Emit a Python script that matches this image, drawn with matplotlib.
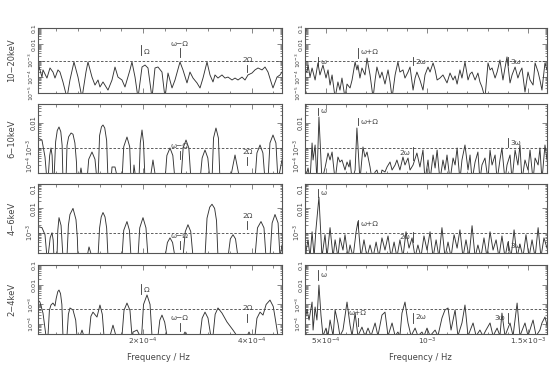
import numpy as np
import matplotlib
matplotlib.use('Agg')
import matplotlib.pyplot as plt
from matplotlib.ticker import FixedLocator, FixedFormatter, LogLocator, NullFormatter, MultipleLocator

plt.rcParams['font.family'] = ['DejaVu Sans']
plt.rcParams['mathtext.fontset'] = 'dejavusans'

FREQ_UNIT = 1e-4  # frequencies below are in units of 1e-4 Hz; powers are log10

bands = ['10−20keV', '6−10keV', '4−6keV', '2−4keV']

# ---- left column (low frequency) : (freq, log10 power) ----
row1_left = [(0.065,-3.15),(0.138,-4.02),(0.157,-3.58),(0.230,-4.08),(0.286,-3.46),(0.341,-3.71),(0.378,-4.08),(0.433,-3.58),(0.470,-3.71),(0.525,-4.32),(0.599,-5.3),(0.654,-4.20),(0.728,-3.09),(0.802,-4.02),(0.876,-5.3),(0.949,-3.71),(0.986,-3.09),(1.060,-4.02),(1.115,-4.51),(1.171,-4.20),(1.207,-4.63),(1.263,-4.32),(1.355,-4.82),(1.429,-4.20),(1.484,-3.40),(1.539,-4.02),(1.613,-4.20),(1.668,-4.63),(1.760,-3.58),(1.797,-3.09),(1.853,-4.02),(1.908,-5.3),(1.982,-3.40),(2.037,-3.28),(2.092,-3.46),(2.166,-5.3),(2.221,-3.46),(2.276,-3.40),(2.350,-3.71),(2.406,-5.3),(2.461,-3.77),(2.535,-4.69),(2.590,-4.20),(2.682,-3.09),(2.737,-3.58),(2.811,-4.38),(2.866,-3.71),(2.922,-4.08),(2.995,-4.38),(3.051,-4.69),(3.106,-4.08),(3.180,-3.09),(3.235,-3.89),(3.290,-4.32),(3.327,-3.89),(3.382,-4.08),(3.456,-3.89),(3.511,-4.08),(3.567,-4.02),(3.641,-4.20),(3.696,-4.08),(3.751,-4.20),(3.825,-4.02),(3.880,-4.20),(3.935,-3.89),(4.009,-3.77),(4.064,-3.58),(4.120,-3.46),(4.194,-3.58),(4.249,-3.40),(4.304,-3.71),(4.378,-4.51),(4.396,-4.69),(4.470,-4.02),(4.525,-3.89),(4.562,-3.71)]

row2_left = [(0.065,-2.60),(0.138,-2.68),(0.194,-3.36),(0.230,-4.3),
(0.249,-4.3),(0.280,-3.3),(0.304,-3.0),(0.325,-3.3),(0.341,-4.3),
(0.359,-4.3),(0.390,-2.75),(0.420,-2.3),(0.452,-2.16),(0.485,-2.35),(0.510,-2.9),(0.525,-4.3),
(0.581,-4.3),(0.600,-2.9),(0.630,-2.55),(0.675,-2.4),(0.710,-2.45),(0.745,-2.8),(0.775,-3.6),(0.783,-4.3),
(0.820,-4.3),(0.857,-3.8),(0.894,-4.3),
(0.968,-4.3),(1.000,-3.45),(1.060,-3.16),(1.115,-3.45),(1.152,-4.3),
(1.171,-4.3),(1.200,-2.5),(1.235,-2.15),(1.263,-2.08),(1.295,-2.2),(1.330,-2.7),(1.355,-4.3),
(1.410,-4.3),(1.429,-3.76),(1.484,-3.76),(1.539,-4.3),
(1.613,-4.3),(1.645,-2.95),(1.705,-2.56),(1.755,-2.95),(1.779,-4.3),
(1.816,-4.3),(1.834,-3.68),(1.871,-4.3),
(1.926,-4.3),(1.950,-2.8),(1.982,-2.28),(2.010,-2.8),(2.037,-4.3),
(2.129,-4.3),(2.184,-3.48),(2.240,-4.3),
(2.406,-4.3),(2.440,-3.3),(2.498,-3.0),(2.550,-3.3),(2.590,-4.3),
(2.700,-4.3),(2.740,-3.0),(2.793,-2.68),(2.845,-3.0),(2.885,-4.3),
(3.051,-4.3),(3.090,-3.4),(3.143,-3.08),(3.195,-3.4),(3.235,-4.3),
(3.272,-4.3),(3.300,-2.6),(3.345,-2.2),(3.390,-2.6),(3.419,-4.3),
(3.604,-4.3),(3.696,-3.28),(3.788,-4.3),
(4.064,-4.3),(4.100,-3.2),(4.157,-2.88),(4.210,-3.2),(4.249,-4.3),
(4.304,-4.3),(4.340,-2.8),(4.396,-2.48),(4.450,-2.8),(4.488,-4.3),(4.562,-3.48)]

row3_left = [(0.065,-2.75),(0.138,-2.79),(0.194,-3.08),(0.230,-4.0),
(0.249,-4.0),(0.290,-3.2),(0.323,-3.0),(0.345,-3.3),(0.359,-4.0),
(0.415,-4.0),(0.430,-2.9),(0.452,-2.38),(0.490,-2.7),(0.525,-4.0),
(0.599,-4.0),(0.625,-2.7),(0.654,-2.25),(0.710,-2.0),(0.765,-2.46),(0.790,-3.2),(0.802,-4.0),
(0.968,-4.0),(1.005,-3.58),(1.060,-4.0),
(1.171,-4.0),(1.200,-2.8),(1.230,-2.35),(1.263,-2.17),(1.300,-2.35),(1.330,-2.8),(1.355,-4.0),
(1.613,-4.0),(1.645,-2.9),(1.705,-2.54),(1.750,-2.9),(1.779,-4.0),
(1.908,-4.0),(1.940,-2.8),(2.000,-2.38),(2.055,-2.8),(2.092,-4.0),
(2.406,-4.0),(2.450,-3.4),(2.498,-3.21),(2.545,-3.4),(2.590,-4.0),
(2.737,-4.0),(2.780,-2.95),(2.829,-2.67),(2.880,-2.95),(2.922,-4.0),
(3.143,-4.0),(3.180,-2.4),(3.230,-1.95),(3.272,-1.83),(3.320,-2.0),(3.355,-2.5),(3.382,-4.0),
(3.567,-4.0),(3.610,-3.25),(3.659,-3.08),(3.705,-3.25),(3.751,-4.0),
(4.064,-4.0),(4.110,-2.8),(4.175,-2.54),(4.230,-2.8),(4.267,-4.0),
(4.341,-4.0),(4.380,-2.6),(4.433,-2.25),(4.490,-2.6),(4.525,-4.0),(4.562,-3.5)]

row4_left = [(0.065,-2.78),(0.101,-2.88),(0.157,-3.44),(0.212,-4.6),
(0.249,-4.6),(0.275,-3.3),(0.304,-3.03),(0.341,-2.93),(0.378,-3.08),(0.400,-2.7),(0.430,-2.35),(0.452,-2.27),(0.480,-2.45),(0.505,-3.0),(0.525,-4.6),
(0.599,-4.6),(0.625,-3.5),(0.654,-3.18),(0.710,-3.28),(0.760,-3.8),(0.783,-4.6),
(0.840,-4.6),(0.876,-4.30),(0.910,-4.6),
(1.005,-4.6),(1.040,-3.6),(1.078,-3.39),(1.152,-3.64),(1.207,-3.03),(1.250,-3.5),(1.281,-4.6),
(1.392,-4.6),(1.447,-4.05),(1.502,-4.6),
(1.613,-4.6),(1.650,-3.3),(1.705,-2.93),(1.760,-3.3),(1.797,-4.6),
(1.810,-4.6),(1.816,-4.40),(1.890,-4.30),(1.945,-4.6),
(1.975,-4.6),(2.010,-3.0),(2.074,-2.52),(2.130,-3.0),(2.166,-4.6),
(2.276,-4.6),(2.310,-3.8),(2.350,-3.54),(2.400,-3.9),(2.442,-4.6),
(2.737,-4.6),(2.774,-4.40),(2.811,-4.6),
(3.051,-4.6),(3.090,-3.7),(3.143,-3.39),(3.198,-3.69),(3.250,-4.6),
(3.290,-4.6),(3.330,-3.5),(3.382,-3.18),(3.456,-3.44),(3.548,-3.89),(3.659,-4.30),(3.733,-4.6),
(3.917,-4.6),(3.954,-4.40),(3.990,-4.6),
(4.064,-4.6),(4.100,-3.7),(4.157,-3.39),(4.212,-3.54),(4.270,-3.0),(4.341,-2.78),(4.400,-3.1),(4.433,-3.64),(4.488,-4.6),(4.562,-4.6)]

# ---- right column (high frequency) ----
row1_right = [(3.96,-3.58),(4.06,-3.71),(4.11,-3.28),(4.21,-4.02),(4.31,-3.46),(4.46,-4.20),(4.60,-3.15),(4.70,-3.89),(4.85,-3.28),(5.00,-4.08),(5.10,-3.58),(5.20,-4.51),(5.30,-3.89),(5.45,-5.3),(5.59,-4.32),(5.69,-4.82),(5.79,-4.08),(5.94,-5.3),(6.04,-4.45),(6.19,-4.69),(6.29,-4.20),(6.44,-3.09),(6.53,-3.58),(6.58,-3.28),(6.68,-4.08),(6.78,-3.46),(6.93,-3.89),(7.03,-2.85),(7.18,-3.89),(7.33,-5.3),(7.43,-4.20),(7.52,-3.40),(7.67,-4.08),(7.77,-3.71),(7.92,-4.45),(8.07,-3.58),(8.17,-4.32),(8.27,-5.3),(8.42,-3.89),(8.56,-3.09),(8.66,-3.71),(8.81,-3.58),(8.91,-4.08),(9.06,-3.71),(9.16,-3.40),(9.31,-4.82),(9.41,-4.08),(9.50,-3.71),(9.65,-4.20),(9.80,-4.82),(9.90,-3.89),(10.05,-3.40),(10.15,-3.71),(10.30,-3.15),(10.40,-3.58),(10.50,-4.20),(10.64,-4.08),(10.79,-3.89),(10.99,-4.38),(11.14,-3.77),(11.29,-4.20),(11.39,-3.95),(11.49,-4.45),(11.63,-3.58),(11.73,-4.08),(11.88,-3.09),(12.03,-4.20),(12.13,-3.83),(12.23,-3.71),(12.38,-4.20),(12.52,-3.77),(12.62,-4.32),(12.72,-4.63),(12.87,-5.3),(13.02,-3.15),(13.12,-3.58),(13.22,-3.46),(13.37,-4.08),(13.47,-3.71),(13.61,-2.97),(13.76,-4.20),(13.86,-3.46),(13.96,-2.78),(14.11,-4.38),(14.21,-3.89),(14.36,-3.40),(14.50,-4.08),(14.60,-3.71),(14.70,-3.46),(14.85,-4.94),(15.00,-3.71),(15.10,-4.20),(15.25,-4.51),(15.35,-3.15),(15.50,-3.71),(15.59,-4.20),(15.69,-4.82),(15.84,-3.15),(15.94,-3.58)]

row2_right = [(3.96,-4.3),(4.11,-3.80),(4.21,-4.3),(4.31,-2.80),(4.36,-3.48),(4.46,-2.88),(4.55,-4.3),(4.65,-1.76),(4.80,-4.3),(4.95,-3.80),(5.10,-3.20),(5.20,-3.48),(5.30,-3.16),(5.45,-4.3),(5.59,-3.36),(5.69,-3.56),(5.79,-3.48),(5.94,-3.88),(6.04,-3.56),(6.14,-3.76),(6.19,-3.48),(6.29,-4.3),(6.44,-3.88),(6.53,-2.20),(6.68,-4.3),(6.83,-2.96),(6.93,-3.36),(7.03,-3.16),(7.18,-3.76),(7.28,-4.3),(7.43,-3.96),(7.52,-3.88),(7.67,-4.3),(7.77,-3.88),(7.92,-3.96),(8.02,-3.76),(8.17,-3.56),(8.27,-3.88),(8.42,-3.68),(8.51,-3.48),(8.66,-3.88),(8.81,-3.36),(8.91,-3.68),(9.06,-3.40),(9.16,-3.88),(9.31,-3.68),(9.50,-3.20),(9.65,-3.76),(9.80,-3.08),(9.90,-4.3),(10.05,-3.48),(10.15,-4.3),(10.30,-3.28),(10.40,-3.80),(10.50,-3.08),(10.64,-4.3),(10.79,-3.48),(10.89,-3.88),(10.99,-3.28),(11.14,-4.3),(11.29,-3.40),(11.39,-3.68),(11.49,-3.00),(11.63,-4.3),(11.73,-3.48),(11.88,-2.88),(12.03,-3.88),(12.13,-3.28),(12.23,-4.3),(12.38,-3.56),(12.52,-3.16),(12.62,-4.3),(12.72,-3.68),(12.87,-3.40),(13.02,-4.3),(13.12,-3.08),(13.22,-3.68),(13.37,-3.28),(13.47,-4.3),(13.61,-3.48),(13.71,-3.00),(13.86,-4.3),(13.96,-3.68),(14.11,-3.28),(14.21,-4.3),(14.36,-3.08),(14.50,-3.68),(14.60,-2.88),(14.70,-4.3),(14.85,-3.48),(15.00,-3.88),(15.10,-3.08),(15.25,-4.3),(15.35,-3.40),(15.50,-3.68),(15.59,-3.00),(15.69,-4.3),(15.84,-2.88),(15.94,-3.48)]

row3_right = [(3.96,-4.0),(4.11,-3.29),(4.21,-4.0),(4.31,-2.96),(4.41,-4.0),(4.50,-2.88),(4.65,-1.54),(4.80,-4.0),(4.95,-3.08),(5.05,-4.0),(5.20,-2.79),(5.35,-4.0),(5.45,-3.29),(5.59,-4.0),(5.69,-3.21),(5.84,-3.71),(5.94,-3.08),(6.09,-4.0),(6.19,-3.5),(6.34,-4.0),(6.49,-2.96),(6.58,-2.54),(6.73,-4.0),(6.88,-3.29),(7.03,-4.0),(7.18,-3.5),(7.33,-4.0),(7.48,-3.38),(7.62,-4.0),(7.77,-3.21),(7.92,-3.71),(8.07,-3.13),(8.22,-4.0),(8.37,-3.38),(8.51,-4.0),(8.66,-3.29),(8.81,-4.0),(8.96,-2.96),(9.11,-3.63),(9.26,-3.21),(9.41,-4.0),(9.55,-3.5),(9.70,-4.0),(9.85,-3.13),(10.00,-3.71),(10.15,-2.96),(10.30,-4.0),(10.45,-3.29),(10.59,-4.0),(10.74,-2.79),(10.89,-4.0),(11.04,-3.38),(11.19,-4.0),(11.34,-3.08),(11.49,-3.63),(11.63,-2.88),(11.78,-4.0),(11.93,-3.29),(12.08,-4.0),(12.23,-2.71),(12.38,-4.0),(12.52,-3.5),(12.67,-4.0),(12.82,-3.21),(12.97,-4.0),(13.12,-2.96),(13.27,-3.71),(13.42,-3.29),(13.56,-4.0),(13.71,-3.13),(13.86,-4.0),(14.01,-3.38),(14.16,-4.0),(14.31,-2.88),(14.46,-4.0),(14.60,-3.46),(14.75,-4.0),(14.90,-3.08),(15.05,-4.0),(15.20,-3.29),(15.35,-4.0),(15.50,-2.79),(15.64,-4.0),(15.79,-3.21),(15.94,-3.63)]

row4_right = [(3.96,-3.79),(4.06,-3.28),(4.16,-3.79),(4.31,-2.88),(4.36,-4.30),(4.46,-3.13),(4.55,-3.79),(4.65,-2.02),(4.75,-3.54),(4.85,-4.6),(5.00,-4.20),(5.10,-4.6),(5.20,-3.79),(5.35,-4.6),(5.45,-3.28),(5.59,-3.94),(5.69,-4.6),(5.84,-4.30),(6.04,-2.88),(6.19,-4.05),(6.29,-4.6),(6.44,-3.44),(6.58,-4.6),(6.78,-4.15),(6.93,-4.6),(7.08,-4.20),(7.23,-4.6),(7.43,-3.94),(7.57,-4.6),(7.77,-3.54),(7.92,-3.39),(8.07,-4.6),(8.27,-3.94),(8.42,-4.6),(8.56,-4.40),(8.66,-4.6),(8.76,-3.44),(8.91,-2.88),(9.06,-3.94),(9.21,-4.6),(9.41,-4.20),(9.55,-4.6),(9.75,-4.40),(9.85,-4.6),(10.00,-4.20),(10.15,-4.6),(10.40,-4.30),(10.54,-4.6),(10.74,-3.69),(10.89,-3.28),(11.04,-3.18),(11.19,-4.30),(11.39,-3.28),(11.53,-4.6),(11.73,-3.94),(11.88,-3.03),(12.03,-4.6),(12.28,-3.94),(12.43,-4.6),(12.62,-4.30),(12.77,-4.6),(12.92,-4.30),(13.12,-3.94),(13.27,-4.6),(13.47,-4.20),(13.61,-4.6),(13.71,-3.44),(13.86,-4.6),(14.11,-3.94),(14.26,-4.6),(14.46,-2.93),(14.60,-4.6),(14.85,-3.94),(15.00,-4.6),(15.25,-3.79),(15.40,-4.6),(15.59,-4.30),(15.69,-3.94),(15.84,-3.64),(15.94,-4.05)]

left_series = [row1_left, row2_left, row3_left, row4_left]
right_series = [row1_right, row2_right, row3_right, row4_right]

# log10 axis limits and dashed significance levels per row
ylims = [(-5.0, -1.0), (-4.0, -1.24), (-3.83, -1.0), (-4.5, -1.0)]
sig_levels = [-3.0, -3.0, -3.0, -3.23]

left_xlim = (0.065, 4.562)
right_xlim = (3.96, 15.94)

# harmonic markers: (label, freq, marker y0, y1 (axes frac), label y (axes frac), label placement)
left_marks = [
    [('Ω', 1.96, 0.585, 0.738, 0.63, 'right'), ('ω−Ω', 2.68, 0.554, 0.692, 0.76, 'above'), ('2Ω', 3.92, 0.323, 0.431, 0.51, 'above')],
    [('ω−Ω', 2.68, 0.20, 0.32, 0.39, 'above'), ('2Ω', 3.92, 0.116, 0.232, 0.30, 'above')],
    [('ω−Ω', 2.68, 0.06, 0.17, 0.25, 'above'), ('2Ω', 3.92, 0.35, 0.46, 0.54, 'above')],
    [('Ω', 1.96, 0.58, 0.725, 0.64, 'right'), ('ω−Ω', 2.68, 0.043, 0.159, 0.232, 'above'), ('2Ω', 3.92, 0.174, 0.29, 0.377, 'above')],
]
right_marks = [
    [('ω', 4.60, 0.43, 0.554, 0.48, 'right'), ('ω+Ω', 6.58, 0.538, 0.692, 0.63, 'right'), ('2ω', 9.31, 0.43, 0.554, 0.48, 'right'), ('3ω', 14.01, 0.43, 0.554, 0.48, 'right')],
    [('ω', 4.60, 0.84, 0.94, 0.90, 'right'), ('ω+Ω', 6.58, 0.70, 0.80, 0.74, 'right'), ('2ω', 9.31, 0.19, 0.377, 0.29, 'left'), ('3ω', 14.01, 0.377, 0.507, 0.435, 'right')],
    [('ω', 4.60, 0.81, 0.93, 0.87, 'right'), ('ω+Ω', 6.58, 0.36, 0.48, 0.42, 'right'), ('2ω', 9.31, 0.16, 0.30, 0.232, 'left'), ('3ω', 14.01, 0.04, 0.174, 0.10, 'right')],
    [('ω', 4.60, 0.78, 0.93, 0.855, 'right'), ('ω+Ω', 6.58, 0.116, 0.232, 0.304, 'above'), ('2ω', 9.31, 0.159, 0.304, 0.246, 'right'), ('3ω', 14.01, 0.159, 0.304, 0.232, 'left')],
]

W, H = 550, 368
fig = plt.figure(figsize=(W/100, H/100), dpi=100)

row_px = [(28, 93), (104, 173), (184, 253), (265, 334)]
col_px = [(38, 282), (305, 547)]

LINE_C = '#333333'
AX_C = '#555555'
TXT_C = '#444444'
FS = 5.3
YFS = [4.4, 4.8, 4.8, 4.6]

ylabel_map = {-5: '10$^{-5}$', -4: '10$^{-4}$', -3: '10$^{-3}$', -2: '0.01', -1: '0.1'}
# rows whose top / bottom tick label is shifted inward to clear the neighbour row
shift_top_rows = [2]
shift_bottom_rows = [1]


def style_axis(ax, row, col):
    lo, hi = ylims[row]
    ax.set_yscale('log')
    ax.set_ylim(10**lo, 10**hi)
    decs = [d for d in range(-5, 0) if lo - 1e-6 <= d <= hi + 1e-6]
    ax.yaxis.set_major_locator(FixedLocator([10.0**d for d in decs]))
    ax.yaxis.set_major_formatter(FixedFormatter([ylabel_map[d] for d in decs]))
    ax.yaxis.set_minor_locator(LogLocator(base=10, subs=np.arange(2, 10)))
    ax.yaxis.set_minor_formatter(NullFormatter())
    if col == 0:
        ax.set_xlim(left_xlim[0]*FREQ_UNIT, left_xlim[1]*FREQ_UNIT)
        ax.xaxis.set_major_locator(FixedLocator([2e-4, 4e-4]))
        ax.xaxis.set_major_formatter(FixedFormatter(['2×10$^{-4}$', '4×10$^{-4}$']))
        ax.xaxis.set_minor_locator(MultipleLocator(0.4e-4))
    else:
        ax.set_xlim(right_xlim[0]*FREQ_UNIT, right_xlim[1]*FREQ_UNIT)
        ax.xaxis.set_major_locator(FixedLocator([5e-4, 1e-3, 1.5e-3]))
        ax.xaxis.set_major_formatter(FixedFormatter(['5×10$^{-4}$', '10$^{-3}$', '1.5×10$^{-3}$']))
        ax.xaxis.set_minor_locator(MultipleLocator(1e-4))
    ax.tick_params(which='both', direction='in', top=True, right=True, color=AX_C,
                   width=0.5, labelsize=FS, labelcolor=TXT_C, pad=1.5)
    ax.tick_params(axis='y', labelsize=YFS[row], pad=1.2)
    ax.tick_params(which='major', length=3.5)
    ax.tick_params(which='minor', length=1.8)
    ax.tick_params(axis='y', labelrotation=90)
    for d, lab in zip(decs, ax.get_yticklabels()):
        if row in shift_top_rows and abs(d - hi) < 0.05:
            lab.set_verticalalignment('top')
        elif row in shift_bottom_rows and abs(d - lo) < 0.05:
            lab.set_verticalalignment('bottom')
        else:
            lab.set_verticalalignment('center')
    if row != 3:
        ax.tick_params(axis='x', labelbottom=False)
    for sp in ax.spines.values():
        sp.set_color(AX_C)
        sp.set_linewidth(0.8)


for row in range(4):
    for col in range(2):
        x0, x1 = col_px[col]
        y0, y1 = row_px[row]
        ax = fig.add_axes([x0/W, 1 - y1/H, (x1-x0)/W, (y1-y0)/H])
        series = left_series[row] if col == 0 else right_series[row]
        f = np.array([p[0] for p in series]) * FREQ_UNIT
        p = 10.0 ** np.array([p[1] for p in series])
        ax.plot(f, p, color=LINE_C, lw=0.65)
        ax.axhline(10.0 ** sig_levels[row], color='#444444', lw=0.6, ls=(0, (3, 2)))
        style_axis(ax, row, col)
        marks = left_marks[row] if col == 0 else right_marks[row]
        tr = ax.get_xaxis_transform()
        for lab, fr, m0, m1, ly, place in marks:
            ax.plot([fr*FREQ_UNIT, fr*FREQ_UNIT], [m0, m1], transform=tr, color='#333333', lw=0.6, clip_on=False)
            if place == 'right':
                ax.annotate(lab, (fr*FREQ_UNIT, ly), xycoords=tr, xytext=(2, 0), textcoords='offset points',
                            ha='left', va='center', fontsize=FS, color=TXT_C)
            elif place == 'left':
                ax.annotate(lab, (fr*FREQ_UNIT, ly), xycoords=tr, xytext=(-2, 0), textcoords='offset points',
                            ha='right', va='center', fontsize=FS, color=TXT_C)
            else:
                ax.annotate(lab, (fr*FREQ_UNIT, ly), xycoords=tr, ha='center', va='center',
                            fontsize=FS, color=TXT_C)
    yc = 1 - (row_px[row][0] + row_px[row][1]) / 2 / H
    fig.text(12/W, yc, bands[row], rotation=90, ha='center', va='center', fontsize=6, color=TXT_C)

fig.text(158/W, 1 - 357/H, 'Frequency / Hz', ha='center', va='center', fontsize=6, color=TXT_C)
fig.text(420/W, 1 - 357/H, 'Frequency / Hz', ha='center', va='center', fontsize=6, color=TXT_C)

fig.savefig('out.png', dpi=100)
